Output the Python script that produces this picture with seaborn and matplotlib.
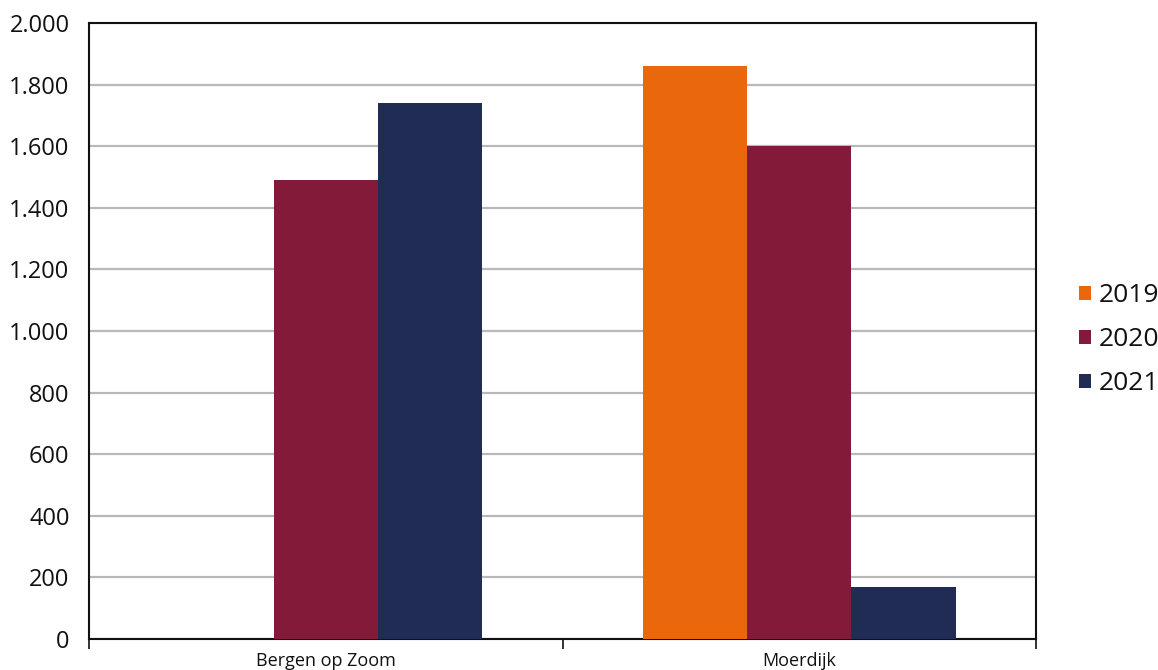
import matplotlib
matplotlib.use("Agg")
import matplotlib.pyplot as plt
from matplotlib.ticker import FuncFormatter, FixedLocator
import seaborn as sns
import pandas as pd
import numpy as np

# Data
categories = ["Bergen op Zoom", "Moerdijk"]
years = ["2019", "2020", "2021"]
values_2019 = [0, 1860]
values_2020 = [1490, 1600]
values_2021 = [1740, 170]
colors = ["#EB670B", "#831A3A", "#212C55"]

rows = []
for yr, vals in zip(years, [values_2019, values_2020, values_2021]):
    for cat, v in zip(categories, vals):
        rows.append({"gemeente": cat, "jaar": yr, "waarde": v})
df = pd.DataFrame(rows)

sns.set_theme(style="white")
plt.rcParams["font.family"] = ["Open Sans", "DejaVu Sans"]

W, H = 1158, 670
fig = plt.figure(figsize=(W / 100, H / 100), dpi=100)
ax = fig.add_axes([89 / W, 1 - 639 / H, (1036 - 89) / W, (639 - 23) / H])

sns.barplot(data=df, x="gemeente", y="waarde", hue="jaar", hue_order=years,
            palette=colors, width=0.66, gap=0, saturation=1, ax=ax,
            edgecolor="none", linewidth=0, errorbar=None, zorder=3)

ax.set_xlim(-0.5, 1.5)
ax.set_ylim(0, 2000)
ax.set_yticks(np.arange(0, 2001, 200))
ax.yaxis.set_major_formatter(FuncFormatter(lambda v, p: f"{int(v):,}".replace(",", ".")))
ax.yaxis.grid(True, color="#B8B8B8", linewidth=1.6, zorder=0)
ax.set_axisbelow(True)
ax.set_xlabel("")
ax.set_ylabel("")

ax.tick_params(axis="y", length=0, pad=14, labelsize=17, labelcolor="#111111")
ax.tick_params(axis="x", which="major", length=0, pad=9, labelsize=13, labelcolor="#111111")
ax.xaxis.set_minor_locator(FixedLocator([-0.5, 0.5, 1.5]))
ax.tick_params(axis="x", which="minor", length=7, width=1.2, direction="out",
               color="#111111", bottom=True)

for s in ax.spines.values():
    s.set_visible(True)
    s.set_color("#111111")
    s.set_linewidth(1.5)

# Legend outside the axes on the right
handles, labels = ax.get_legend_handles_labels()
if ax.get_legend() is not None:
    ax.get_legend().remove()
leg = fig.legend(handles, labels, loc="center left", bbox_to_anchor=(1066 / W, 1 - 340 / H),
                 frameon=False, fontsize=19, handlelength=0.45, handleheight=0.45,
                 handletextpad=0.3, labelspacing=0.72, borderpad=0)
for t in leg.get_texts():
    t.set_color("#111111")

fig.savefig("out.png", dpi=100)
